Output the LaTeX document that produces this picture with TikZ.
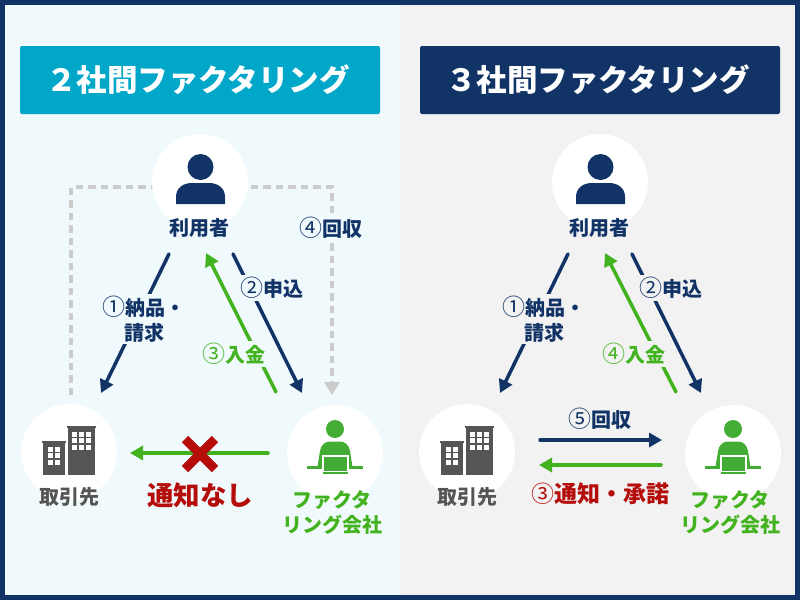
\documentclass[tikz,border=0pt]{standalone}
\usepackage{fontspec}
\setmainfont{Noto Sans CJK JP}
\usetikzlibrary{arrows.meta}

\definecolor{navy}{HTML}{113366}
\definecolor{teal}{HTML}{00A7C8}
\definecolor{leftbg}{HTML}{F0FAFC}
\definecolor{rightbg}{HTML}{F2F2F2}
\definecolor{grn}{HTML}{42B31F}
\definecolor{icongrn}{HTML}{43AC34}
\definecolor{redtxt}{HTML}{B40D0A}
\definecolor{dashgray}{HTML}{CCCCCC}
\definecolor{bldgray}{HTML}{555555}

\newcommand\Cnum[1]{{\mdseries\fontsize{23}{25}\selectfont #1}}

\tikzset{
  circlebox/.style={circle, fill=white, minimum size=96pt, inner sep=0pt},
  titlebox/.style={minimum width=360pt, minimum height=68pt, rounded corners=2pt, inner sep=0pt,
    text=white, font=\fontsize{30.5}{30}\selectfont\bfseries},
  whotext/.style={inner sep=0pt, align=center, font=\fontsize{20}{25}\selectfont\bfseries},
  steptext/.style={inner sep=2pt, align=center, text=navy, font=\fontsize{20}{25}\selectfont\bfseries},
  redtext/.style={inner sep=2pt, text=redtxt, font=\fontsize{23}{25}\selectfont\bfseries},
  navyarrow/.style={draw=navy, line width=3.5pt, line cap=round, -{Triangle[length=13pt,width=14pt]}},
  greenarrow/.style={draw=grn, line width=3.5pt, line cap=round, -{Triangle[length=13pt,width=14pt]}},
  backline/.style={draw=dashgray, line width=3.6pt, dash pattern=on 7.5pt off 5pt,
    -{Triangle[length=13pt,width=15pt]}},
  personicon/.pic={
    \fill[navy] (0.5,-15) circle (13pt);
    \fill[navy] (-24,22) -- (-24,15) .. controls (-24,6) and (-17,1) .. (-8,1) -- (9,1)
      .. controls (18,1) and (25,6) .. (25,15) -- (25,22) -- cycle;
  },
  buildicon/.pic={
    \fill[bldgray] (-26,-11) rectangle (-4,23);
    \fill[bldgray] (-27,-11) rectangle (-3,-9);
    \fill[bldgray] (-1,-26) rectangle (26,23);
    \fill[bldgray] (-2,-26) rectangle (27,-24);
    \foreach \wx in {-20.7,-14} \foreach \wy in {-5.3,1.3,8}
      \fill[white] (\wx,\wy) rectangle +(5,5);
    \foreach \wx in {2.7,10,17} \foreach \wy in {-20.3,-13.7,-7}
      \fill[white] (\wx,\wy) rectangle +(5,5);
  },
  workicon/.pic={
    \fill[icongrn] (0,-24) circle (9pt);
    \fill[icongrn] (-17.5,14) -- (-15,-2) .. controls (-14,-8) and (-10,-11.5) .. (-5,-11.5) -- (5,-11.5)
      .. controls (10,-11.5) and (14,-8) .. (15,-2) -- (17.5,14) -- cycle;
    \fill[icongrn] (-28,13) rectangle (28,15.5);
    \fill[white] (-13.5,2) rectangle (13.5,19);
    \fill[icongrn] (-11.5,4) rectangle (11.5,17.5);
    \fill[icongrn] (-12.5,19.2) rectangle (13,21);
  },
}

\begin{document}
\begin{tikzpicture}[x=1pt, y=-1pt]

\useasboundingbox (0,0) rectangle (800,600);
\fill[navy] (0,0) rectangle (800,600);
\fill[leftbg] (5,5) rectangle (400,595);
\fill[rightbg] (400,5) rectangle (795,595);

%% left panel
\node[titlebox, fill=teal] (titleL) at (200,80) {２社間ファクタリング\hspace*{4pt}};

\coordinate (backA) at (71,395);
\coordinate (backB) at (332,187);
\coordinate (backC) at (332,395);
\draw[backline] (backA) |- (backB) -- (backC);

\node[circlebox] (userL) at (200,182) {};
\node[circlebox] (clientL) at (69,452) {};
\node[circlebox] (factorL) at (335,453) {};
\pic at (userL) {personicon};
\pic at (clientL) {buildicon};
\pic at (factorL) {workicon};

\node[whotext, text=navy] (userLtext) at (199,228) {利用者};
\node[whotext, text=bldgray] (clientLtext) at (69,497) {取引先};
\node[whotext, text=grn] (factorLtext) at (332,512) {ファクタ\\リング会社};

\coordinate (oneLs) at (169,254);
\coordinate (oneLe) at (101,393);
\coordinate (twoLs) at (233,254);
\coordinate (twoLe) at (302,393);
\coordinate (thrLs) at (276,392);
\coordinate (thrLe) at (206,253);
\draw[navyarrow] (oneLs) -- (oneLe);
\draw[navyarrow] (twoLs) -- (twoLe);
\draw[greenarrow] (thrLs) -- (thrLe);

\node[steptext, fill=leftbg] (oneLtext) at (144,319) {\Cnum{①}納品・\\請求};
\node[steptext, fill=leftbg] (twoLtext) at (272,288) {\Cnum{②}申込};
\node[steptext, fill=leftbg, text=grn] (thrLtext) at (234,354) {\Cnum{③}入金};
\node[steptext, fill=leftbg] (fourLtext) at (331,228) {\Cnum{④}回収};

\coordinate (noneS) at (268,453);
\coordinate (noneE) at (130,453);
\coordinate (crossC) at (200,454);
\draw[greenarrow] (noneS) -- (noneE);
\draw[redtxt, line width=9pt] ([shift={(-15,-15)}]crossC) -- ([shift={(15,15)}]crossC);
\draw[redtxt, line width=9pt] ([shift={(-15,15)}]crossC) -- ([shift={(15,-15)}]crossC);
\node[redtext, font=\fontsize{26.5}{25}\selectfont\bfseries] (noneText) at (200,495) {通知なし};

%% right panel
\node[titlebox, fill=navy] (titleR) at (600,80) {３社間ファクタリング\hspace*{4pt}};

\node[circlebox] (userR) at (600,182) {};
\node[circlebox] (clientR) at (467,452) {};
\node[circlebox] (factorR) at (733,453) {};
\pic at (userR) {personicon};
\pic at (clientR) {buildicon};
\pic at (factorR) {workicon};

\node[whotext, text=navy] (userRtext) at (599,228) {利用者};
\node[whotext, text=bldgray] (clientRtext) at (467,497) {取引先};
\node[whotext, text=grn] (factorRtext) at (730,512) {ファクタ\\リング会社};

\coordinate (oneRs) at (568,254);
\coordinate (oneRe) at (500,393);
\coordinate (twoRs) at (632,254);
\coordinate (twoRe) at (701,393);
\coordinate (fouRs) at (676,392);
\coordinate (fouRe) at (605,253);
\draw[navyarrow] (oneRs) -- (oneRe);
\draw[navyarrow] (twoRs) -- (twoRe);
\draw[greenarrow] (fouRs) -- (fouRe);

\node[steptext, fill=rightbg] (oneRtext) at (544,319) {\Cnum{①}納品・\\請求};
\node[steptext, fill=rightbg] (twoRtext) at (671,288) {\Cnum{②}申込};
\node[steptext, fill=rightbg, text=grn] (fouRtext) at (634,354) {\Cnum{④}入金};

\coordinate (fivRs) at (540,440);
\coordinate (fivRe) at (662,440);
\coordinate (thrRs) at (661,465);
\coordinate (thrRe) at (539,465);
\draw[navyarrow] (fivRs) -- (fivRe);
\draw[greenarrow] (thrRs) -- (thrRe);
\node[steptext, fill=rightbg] (fivRtext) at (600,419) {\Cnum{⑤}回収};
\node[redtext, fill=rightbg] (thrRtext) at (600,494) {\Cnum{③}通知・承諾};

\end{tikzpicture}
\end{document}
